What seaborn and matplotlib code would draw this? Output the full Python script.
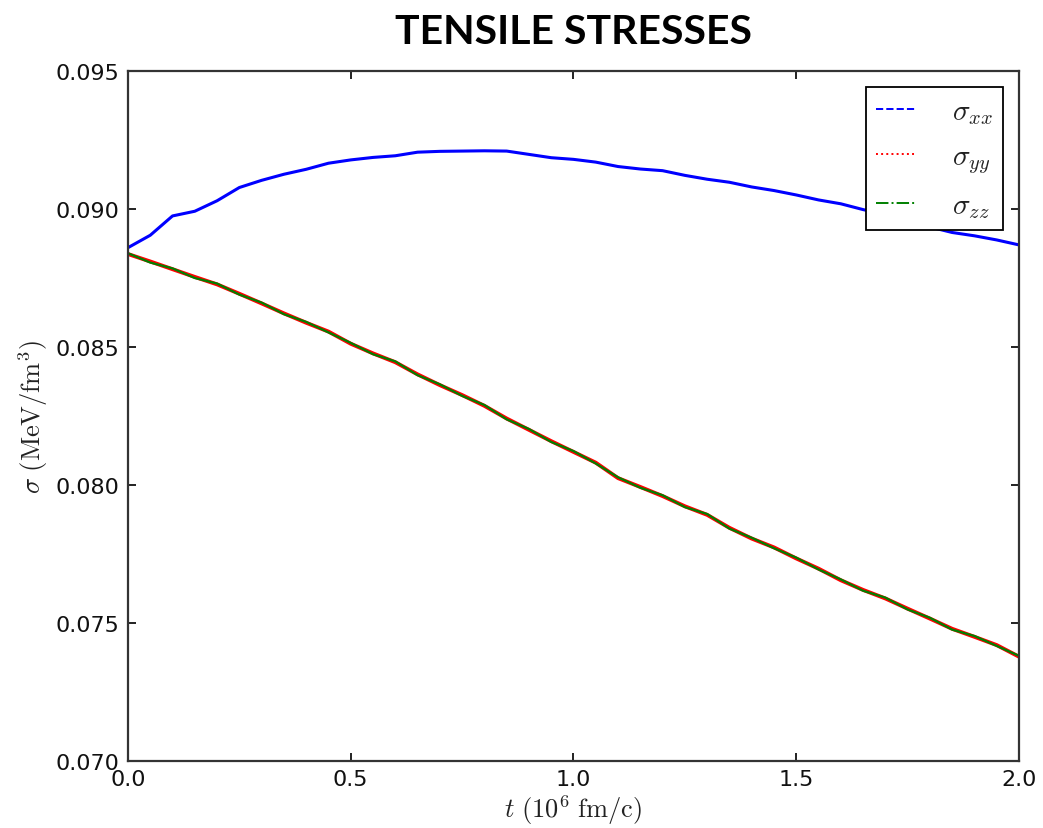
import numpy as np
import pandas as pd
import matplotlib
matplotlib.use("Agg")
import matplotlib.pyplot as plt
from matplotlib.lines import Line2D
import seaborn as sns

# ---- data ----
t = [0.00, 0.05, 0.10, 0.15, 0.20, 0.25, 0.30, 0.35, 0.40, 0.45,
     0.50, 0.55, 0.60, 0.65, 0.70, 0.75, 0.80, 0.85, 0.90, 0.95,
     1.00, 1.05, 1.10, 1.15, 1.20, 1.25, 1.30, 1.35, 1.40, 1.45,
     1.50, 1.55, 1.60, 1.65, 1.70, 1.75, 1.80, 1.85, 1.90, 1.95, 2.00]

sigma_xx = [0.08860, 0.08905, 0.08975, 0.08992, 0.09030, 0.09078, 0.09104, 0.09126, 0.09144, 0.09166,
            0.09178, 0.09187, 0.09193, 0.09206, 0.09209, 0.09210, 0.09211, 0.09210, 0.09198, 0.09186,
            0.09180, 0.09170, 0.09154, 0.09145, 0.09139, 0.09122, 0.09108, 0.09097, 0.09080, 0.09067,
            0.09051, 0.09033, 0.09019, 0.08998, 0.08980, 0.08960, 0.08935, 0.08915, 0.08903, 0.08888, 0.08870]

sigma_yy = [0.08837, 0.08810, 0.08782, 0.08754, 0.08727, 0.08693, 0.08658, 0.08622, 0.08588, 0.08556,
            0.08512, 0.08477, 0.08445, 0.08401, 0.08362, 0.08326, 0.08287, 0.08241, 0.08200, 0.08159,
            0.08120, 0.08081, 0.08025, 0.07993, 0.07960, 0.07923, 0.07892, 0.07845, 0.07806, 0.07774,
            0.07734, 0.07697, 0.07655, 0.07620, 0.07589, 0.07552, 0.07516, 0.07479, 0.07450, 0.07420, 0.07378]

sigma_zz = [0.08840, 0.08806, 0.08785, 0.08750, 0.08730, 0.08690, 0.08661, 0.08619, 0.08591, 0.08553,
            0.08515, 0.08474, 0.08448, 0.08398, 0.08365, 0.08323, 0.08290, 0.08238, 0.08203, 0.08156,
            0.08123, 0.08078, 0.08028, 0.07990, 0.07963, 0.07920, 0.07895, 0.07842, 0.07809, 0.07771,
            0.07737, 0.07694, 0.07658, 0.07617, 0.07592, 0.07549, 0.07519, 0.07476, 0.07453, 0.07417, 0.07381]

labels = [r'$\sigma_{xx}$', r'$\sigma_{yy}$', r'$\sigma_{zz}$']
colors = ['#0000ff', '#ff0000', '#008000']
styles = ['--', ':', '-.']
widths = [2.2, 2.8, 1.6]

sns.set_theme(style="ticks")
plt.rcParams['font.family'] = ['DejaVu Sans']
plt.rcParams['mathtext.fontset'] = 'cm'
plt.rcParams['text.color'] = 'black'

fig = plt.figure(figsize=(10.43, 8.29), dpi=100)
ax = fig.add_axes([0.1227, 0.0808, 0.8543, 0.8323])

for vals, lab, col, lw in zip([sigma_xx, sigma_yy, sigma_zz], labels, colors, widths):
    d = pd.DataFrame({'t': t, 'sigma': vals})
    sns.lineplot(data=d, x='t', y='sigma', color=col, linewidth=lw, ax=ax,
                 legend=False, sort=False)

ax.set_xlim(0.0, 2.0)
ax.set_ylim(0.070, 0.095)
ax.set_xticks([0.0, 0.5, 1.0, 1.5, 2.0])
ax.set_yticks([0.070, 0.075, 0.080, 0.085, 0.090, 0.095])
ax.set_xticklabels(['0.0', '0.5', '1.0', '1.5', '2.0'])
ax.set_yticklabels(['0.070', '0.075', '0.080', '0.085', '0.090', '0.095'])
ax.tick_params(direction='in', length=6, width=1.3, top=True, right=True,
               labelsize=16, colors='#111111', pad=6)
for s in ax.spines.values():
    s.set_linewidth(1.6)
    s.set_color('#333333')

ax.set_xlabel(r'$t\ (10^6\ \mathrm{fm/c})$', fontsize=19, labelpad=2, color='#222222')
ax.set_ylabel(r'$\sigma\ (\mathrm{MeV/fm^3})$', fontsize=19, labelpad=4, color='#222222')
ax.set_title('TENSILE STRESSES', fontsize=29.5, fontweight='bold', color='black',
             family=['Lato', 'DejaVu Sans'], pad=20.5)

handles = [Line2D([], [], color=c, linestyle=ls, linewidth=1.4) for c, ls in zip(colors, styles)]
leg = ax.legend(handles, labels, loc='upper right', fontsize=21, frameon=True,
                fancybox=False, framealpha=1, edgecolor='black',
                borderaxespad=0.55, handlelength=1.4, labelspacing=0.55,
                handletextpad=1.2, borderpad=0.35)
leg.get_frame().set_linewidth(1.3)
for txt in leg.get_texts():
    txt.set_color('#222222')

fig.savefig('out.png', dpi=100)
